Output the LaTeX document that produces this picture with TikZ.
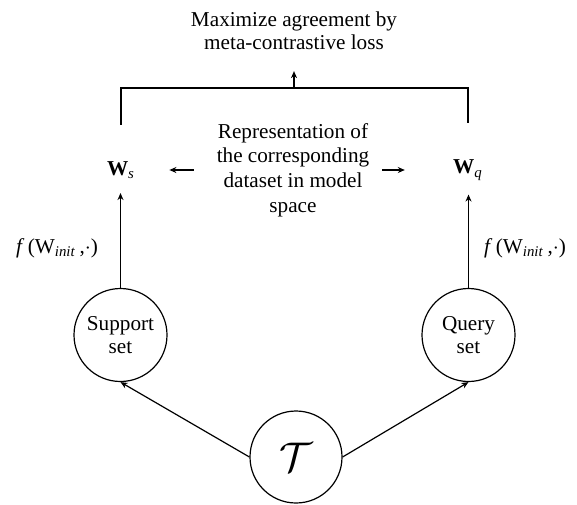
\documentclass[tikz,border=0pt]{standalone}
\usepackage{fontspec}
\setmainfont{Liberation Serif}
\usetikzlibrary{arrows.meta,positioning,calc}
\newcommand{\lbltext}{\fontsize{10.6}{11.6}\selectfont}
\newcommand{\reptext}{\fontsize{10.6}{12.4}\selectfont}

\begin{document}
\begin{tikzpicture}[
  x=0.5pt, y=-0.5pt,
  >={Stealth[length=3.5pt,width=3pt]},
  setnode/.style={draw, circle, line width=0.6pt, minimum size=46.5pt, inner sep=0pt, align=center, font=\lbltext},
  lbl/.style={align=center, font=\lbltext},
  wvec/.style={font=\lbltext, inner sep=2pt},
  arr/.style={->, line width=0.7pt},
  edge/.style={->, line width=0.6pt},
]
\useasboundingbox (0,0) rectangle (577,504);

% goal on top
\node[lbl] (goal) at (294, 31) {Maximize agreement by\\meta-contrastive loss};

% representations
\node[wvec] (ws) at (121, 170) {\textbf{W}\textsubscript{\textit{s}}};
\node[wvec] (wq) at (468, 170) {\textbf{W}\textsubscript{\textit{q}}};
\node[align=center, font=\reptext] (rep) at (293, 170) {Representation of\\the corresponding\\dataset in model\\space};

% sets and task
\node[setnode] (sup) at (120.5, 335) {Support\\set};
\node[setnode] (qry) at (468.5, 335) {Query\\set};
\node[draw, circle, line width=0.6pt, minimum size=46pt, inner sep=0pt, font=\fontsize{22}{24}\selectfont] (task) at (296, 457) {$\mathcal{T}$};

\node[lbl] (fs) at (57, 248) {\textit{f}\,(W\textsubscript{\textit{init}}\,,$\cdot$)};
\node[lbl] (fq) at (525, 248) {\textit{f}\,(W\textsubscript{\textit{init}}\,,$\cdot$)};

% bracket
\coordinate (top) at (294, 88);
\draw[line width=0.6pt] ($(ws.north)+(0,-32)$) |- (top) -| ($(wq.north)+(0,-32)$);
\draw[edge, shorten >=7pt] (top) -- (goal.south);

\draw[edge, shorten <=8pt, shorten >=15pt] (rep.west |- ws) -- (ws.east);
\draw[edge, shorten <=3pt, shorten >=22pt] (rep.east |- wq) -- (wq.west);

\draw[arr, shorten >=5pt] (sup.north) -- (sup.north |- ws.south);
\draw[arr, shorten >=5pt] (qry.north) -- (qry.north |- wq.south);

\draw[edge] (task.west) -- (sup.south);
\draw[edge] (task.east) -- (qry.south);

\end{tikzpicture}
\end{document}
